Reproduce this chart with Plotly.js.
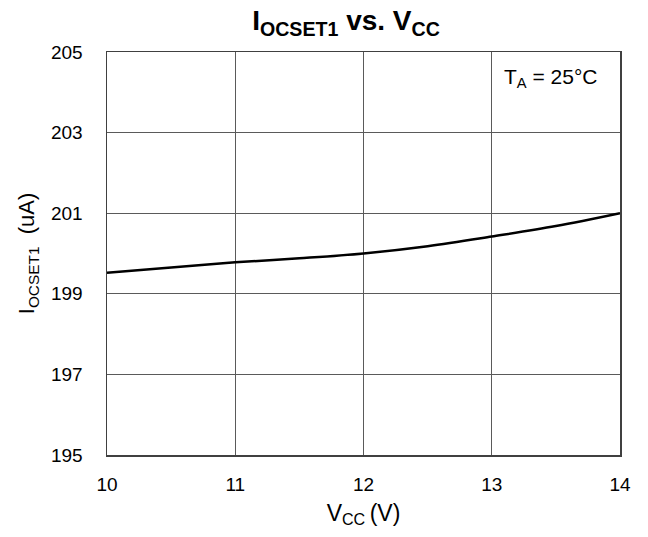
<!DOCTYPE html>
<html><head><meta charset="utf-8">
<script src="https://cdn.plot.ly/plotly-3.0.1.min.js"></script>
<style>html,body{margin:0;padding:0;background:#fff;}#chart{width:648px;height:537px;}</style>
</head><body><div id="chart"></div>
<script>
var vcc = [10, 10.5, 11, 11.5, 12, 12.5, 13, 13.5, 14];
var iocset = [199.52, 199.65, 199.78, 199.88, 200.0, 200.18, 200.42, 200.68, 201.0];
var xTicks = [10, 11, 12, 13, 14];
var yTicks = [195, 197, 199, 201, 203, 205];

var font = "'Liberation Sans', Arial, sans-serif";
Plotly.newPlot('chart', [{
  x: vcc, y: iocset, type: 'scatter', mode: 'lines',
  line: {color: '#000', width: 2.5, shape: 'spline'}, hoverinfo: 'skip'
}], {
  width: 648, height: 537,
  margin: {l: 107, r: 28, t: 52, b: 82},
  paper_bgcolor: '#fff', plot_bgcolor: '#fff',
  showlegend: false,
  title: {text: '<b>I<sub>OCSET1</sub> vs. V<sub>CC</sub></b>', font: {family: font, size: 28, color: '#000'}, x: 0.534, xanchor: 'center', y: 0.962, yanchor: 'middle'},
  xaxis: {range: [10, 14], tickvals: xTicks, ticktext: xTicks.map(String), showgrid: true, gridcolor: '#5a5a5a', gridwidth: 1,
    showline: true, linecolor: '#404040', linewidth: 1.5, mirror: true, ticks: 'outside', ticklen: 12, tickcolor: 'rgba(0,0,0,0)', zeroline: false,
    tickfont: {family: font, size: 19, color: '#000'},
    title: {text: 'V<sub>CC </sub>(V)', font: {family: font, size: 23, color: '#000'}, standoff: 10}},
  yaxis: {range: [195, 205], tickvals: yTicks, ticktext: yTicks.map(String), showgrid: true, gridcolor: '#5a5a5a', gridwidth: 1,
    showline: true, linecolor: '#404040', linewidth: 1.5, mirror: true, ticks: 'outside', ticklen: 19, tickcolor: 'rgba(0,0,0,0)', zeroline: false,
    tickfont: {family: font, size: 19, color: '#000'},
    title: {text: 'I<sub>OCSET1</sub>  (uA)', font: {family: font, size: 22, color: '#000'}, standoff: 10}},
  annotations: [{xref: 'paper', yref: 'paper', x: 0.864, y: 0.935, xanchor: 'center', yanchor: 'middle', showarrow: false,
    text: 'T<sub>A</sub> = 25°C', font: {family: font, size: 21, color: '#000'}}]
}, {displayModeBar: false, staticPlot: true});
</script></body></html>
